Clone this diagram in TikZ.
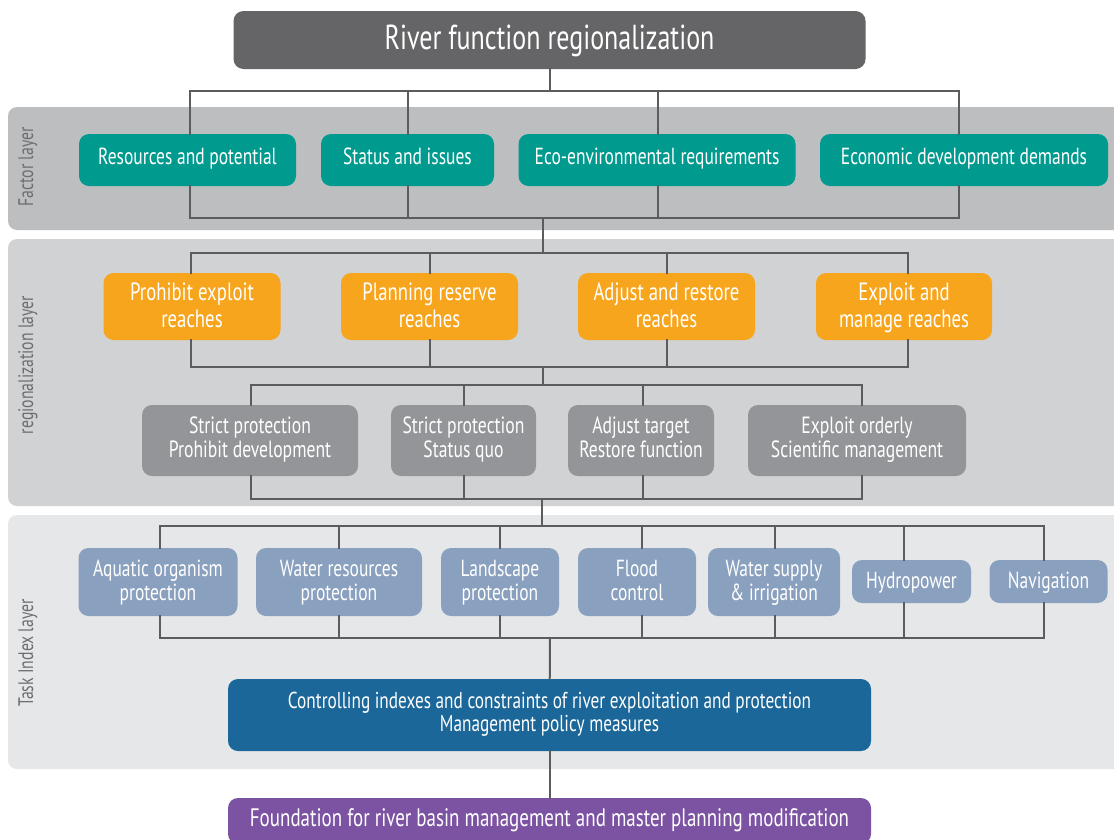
\documentclass[tikz,border=0pt]{standalone}
\usepackage{fontspec}
\setmainfont{PT Sans}[FakeStretch=0.75]
\usepackage{xcolor}
\usepackage{tikz}
\usetikzlibrary{positioning,calc}
\definecolor{titlegray}{HTML}{656567}
\definecolor{factor}{HTML}{009A8F}
\definecolor{reach}{HTML}{F7A51D}
\definecolor{mode}{HTML}{939598}
\definecolor{task}{HTML}{8AA0BF}
\definecolor{control}{HTML}{1B6799}
\definecolor{found}{HTML}{7C52A2}
\definecolor{bandA}{HTML}{BDBEC0}
\definecolor{bandB}{HTML}{D1D2D4}
\definecolor{bandC}{HTML}{E6E7E8}
\definecolor{linegray}{HTML}{5B5C5E}
\definecolor{labelgray}{HTML}{6D6E71}
\tikzset{
    block/.style={rectangle, rounded corners=10pt, inner sep=0pt, align=center, text=white, font=\fontsize{23.3}{24}\selectfont,
        execute at begin node=\strut, execute at end node=\strut},
    reachbox/.style={block, fill=reach, minimum width=177pt, minimum height=67pt, font=\fontsize{25}{27}\selectfont, text depth=2pt},
    modebox/.style={block, fill=mode, minimum height=71pt, font=\fontsize{23.5}{24}\selectfont},
    taskbox/.style={block, fill=task, minimum height=68pt, text depth=3pt},
    band/.style={rounded corners=9pt},
    layerlabel/.style={rotate=90, text=labelgray, font=\fontsize{21}{24}\selectfont},
    link/.style={draw=linegray, line width=2pt, line cap=rect}
}

\begin{document}
\begin{tikzpicture}[x=1pt, y=-1pt]
\useasboundingbox (0,0) rectangle (1114,839);
\fill[white] (0,0) rectangle (1114,839);
\clip (0,0) rectangle (1114,839);

% ── Layers ──
\fill[band, bandA] (8,107) rectangle (1140,230);
\fill[band, bandB] (8,239) rectangle (1140,506);
\fill[band, bandC] (8,515) rectangle (1140,769);
\node[layerlabel] (flabel) at (28,167) {Factor layer};
\node[layerlabel] (rlabel) at (28,365) {regionalization layer};
\node[layerlabel] (tlabel) at (28,653) {Task Index layer};

% ── Title ──
\node[block, fill=titlegray, minimum width=632pt, minimum height=58pt, font=\fontsize{34.7}{36}\selectfont,
    execute at begin node=\rule{0pt}{29pt}] (title) at (549.5,40) {River function regionalization};

% ── Factors ──
\node[block, fill=factor, minimum width=217pt, minimum height=52pt] (res) at (187.5,160) {Resources and potential};
\node[block, fill=factor, minimum width=173pt, minimum height=52pt] (stat) at (407.5,160) {Status and issues};
\node[block, fill=factor, minimum width=277pt, minimum height=52pt] (eco) at (657,160) {Eco-environmental requirements};
\node[block, fill=factor, minimum width=288pt, minimum height=52pt] (econ) at (964,160) {Economic development demands};

% ── Reaches ──
\node[reachbox] (prohib) at (192,306.5) {Prohibit exploit\\reaches};
\node[reachbox] (plan) at (429.5,306.5) {Planning reserve\\reaches};
\node[reachbox] (adjust) at (666.5,306.5) {Adjust and restore\\reaches};
\node[reachbox, minimum width=176pt] (exploit) at (904,306.5) {Exploit and\\manage reaches};

% ── Modes ──
\node[modebox, minimum width=216pt] (strictdev) at (250,440.5) {Strict protection\\Prohibit development};
\node[modebox, minimum width=145pt] (strictquo) at (463.5,440.5) {Strict protection\\Status quo};
\node[modebox, minimum width=146pt] (adjtarget) at (641,440.5) {Adjust target\\Restore function};
\node[modebox, minimum width=218pt] (orderly) at (857,440.5) {Exploit orderly\\Scientific management};

% ── Tasks ──
\node[taskbox, minimum width=159pt] (aquatic) at (158,582) {Aquatic organism\\protection};
\node[taskbox, minimum width=166pt] (waterres) at (339,582) {Water resources\\protection};
\node[taskbox, minimum width=118pt] (landscape) at (500,582) {Landscape\\protection};
\node[taskbox, minimum width=118pt] (flood) at (637,582) {Flood\\control};
\node[taskbox, minimum width=132pt] (supply) at (774,582) {Water supply\\\& irrigation};
\node[taskbox, minimum width=119pt, minimum height=43pt] (hydro) at (911.5,581.5) {Hydropower};
\node[taskbox, minimum width=118pt, minimum height=43pt] (navig) at (1048.5,581.5) {Navigation};

% ── Outcomes ──
\node[block, fill=control, minimum width=643pt, minimum height=72pt, font=\fontsize{23}{23}\selectfont] (control) at (549.5,715) {Controlling indexes and constraints of river exploitation and protection\\Management policy measures};
\node[block, fill=found, minimum width=643pt, minimum height=46pt, font=\fontsize{25.3}{26}\selectfont] (found) at (549.5,821) {Foundation for river basin management and master planning modification};

% ── Junctions ──
\coordinate (fTop) at (550,91);
\coordinate (fBot) at (543,218);
\coordinate (rTop) at (543,253);
\coordinate (rMid) at (543,367);
\coordinate (rLow) at (543,385);
\coordinate (rBot) at (542,498.5);
\coordinate (tTop) at (542,525.5);
\coordinate (tBot) at (550,638);

% ── Connectors ──
\draw[link] (title.south) -- (title.south |- fTop);
\foreach \n/\d in {res/2.5,stat/0,eco/0.5,econ/-5}
    \draw[link] ($(\n.north)+(\d,0)$) |- (fTop) ($(\n.south)+(\d,0)$) |- (fBot);
\draw[link] (fBot) -- (rTop);
\foreach \n/\d in {prohib/-1.5,plan/0,adjust/0.5,exploit/4}
    \draw[link] ($(\n.north)+(\d,0)$) |- (rTop) ($(\n.south)+(\d,0)$) |- (rMid);
\draw[link] (rMid) -- (rLow);
\foreach \n/\d in {strictdev/1,strictquo/0.5,adjtarget/1.5,orderly/5}
    \draw[link] ($(\n.north)+(\d,0)$) |- (rLow) ($(\n.south)+(\d,0)$) |- (rBot);
\draw[link] (rBot) -- (tTop);
\foreach \n/\d in {aquatic/2,waterres/0,landscape/0,flood/4.5,supply/0.5,hydro/-7.5,navig/-4.5}
    \draw[link] ($(\n.north)+(\d,0)$) |- (tTop) ($(\n.south)+(\d,0)$) |- (tBot);
\draw[link] (tBot) -- (control);
\draw[link] (control) -- (found);

\end{tikzpicture}
\end{document}
